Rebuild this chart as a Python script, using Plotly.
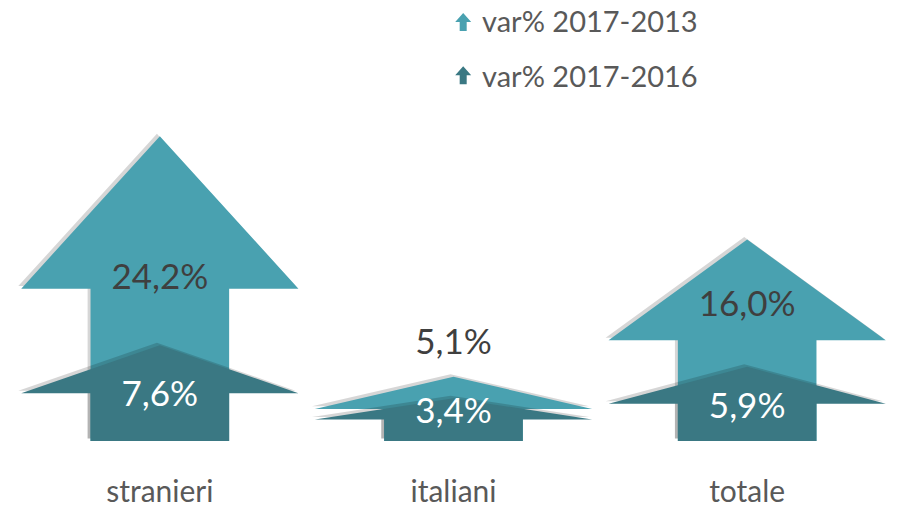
import plotly.graph_objects as go

categories = ["stranieri", "italiani", "totale"]
var_2013 = [24.2, 5.1, 16.0]
var_2016 = [7.6, 3.4, 5.9]

series_names = ["var% 2017-2013", "var% 2017-2016"]
colors = ["#49a1b0", "#3a7883"]
label_colors = ["#3f3f3f", "white"]

FONT = "Lato"
GREY = "#595959"

HEAD_HALF = 0.472
SHAFT_HALF = 0.236


def fmt(v):
    return f"{v:.1f}".replace(".", ",") + "%"


def arrow(xc, value, dx=0.0, dy=0.0):
    head_base = value / 2
    xs = [xc - SHAFT_HALF, xc - SHAFT_HALF, xc - HEAD_HALF, xc, xc + HEAD_HALF,
          xc + SHAFT_HALF, xc + SHAFT_HALF, xc - SHAFT_HALF]
    ys = [0, head_base, head_base, value, head_base, head_base, 0, 0]
    return [x + dx for x in xs], [y + dy for y in ys]


fig = go.Figure()

for s, values in enumerate([var_2013, var_2016]):
    for i, v in enumerate(values):
        # soft drop shadow, up and to the left
        sx, sy = arrow(i, v, dx=-0.01, dy=0.2)
        fig.add_trace(go.Scatter(
            x=sx, y=sy, fill="toself", mode="lines",
            line=dict(width=0), fillcolor="rgba(0,0,0,0.16)",
            hoverinfo="skip", showlegend=False,
        ))
        ax, ay = arrow(i, v)
        fig.add_trace(go.Scatter(
            x=ax, y=ay, fill="toself", mode="lines",
            line=dict(width=0), fillcolor=colors[s],
            name=series_names[s], hoverinfo="skip", showlegend=False,
        ))

# legend entries (marker hidden, arrow icon drawn as a shape below)
for s in range(2):
    fig.add_trace(go.Scatter(
        x=[None], y=[None], mode="markers",
        marker=dict(symbol="arrow-up", size=14, color="rgba(0,0,0,0)"),
        name=series_names[s], legendgroup=series_names[s],
    ))

# value labels
light_label_y = [12.8, 7.6, 10.6]
dark_label_y = [3.5, 2.1, 2.5]
fig.add_trace(go.Scatter(
    x=list(range(len(categories))), y=light_label_y, mode="text",
    text=[fmt(v) for v in var_2013],
    textfont=dict(family=FONT, size=35, color=label_colors[0]),
    hoverinfo="skip", showlegend=False,
))
fig.add_trace(go.Scatter(
    x=list(range(len(categories))), y=dark_label_y, mode="text",
    text=[fmt(v) for v in var_2016],
    textfont=dict(family=FONT, size=35, color=label_colors[1]),
    hoverinfo="skip", showlegend=False,
))

# legend arrow icons
icon_path = "M-3.5,-9 L-3.5,0 L-8,0 L0,9 L8,0 L3.5,0 L3.5,-9 Z"
legend_icon_y = [1.232, 1.076]
for s in range(2):
    fig.add_shape(
        type="path", path=icon_path, xref="paper", yref="paper",
        xsizemode="pixel", ysizemode="pixel",
        xanchor=0.511, yanchor=legend_icon_y[s],
        fillcolor=colors[s], line=dict(width=0),
    )

fig.update_layout(
    width=897, height=508,
    margin=dict(l=13, r=3, t=101, b=67, autoexpand=False),
    paper_bgcolor="white", plot_bgcolor="white",
    font=dict(family=FONT, color=GREY),
    xaxis=dict(
        range=[-0.5, 2.5], tickvals=list(range(len(categories))),
        ticktext=categories, showgrid=False, zeroline=False, showline=False,
        ticks="", tickfont=dict(size=30, color=GREY), ticklabelstandoff=30,
        automargin=False, fixedrange=True,
    ),
    yaxis=dict(range=[0, 27], visible=False, fixedrange=True,
               automargin=False),
    legend=dict(
        x=0.487, y=1.311, xanchor="left", yanchor="top",
        font=dict(size=29, color=GREY), tracegroupgap=14,
        traceorder="grouped", bgcolor="rgba(0,0,0,0)",
        itemwidth=30,
    ),
)

# drop the default page margin so the figure sits at the window's corner
fig.write_html("out.html", config={"displayModeBar": False},
               post_script="document.body.style.margin='0';")
